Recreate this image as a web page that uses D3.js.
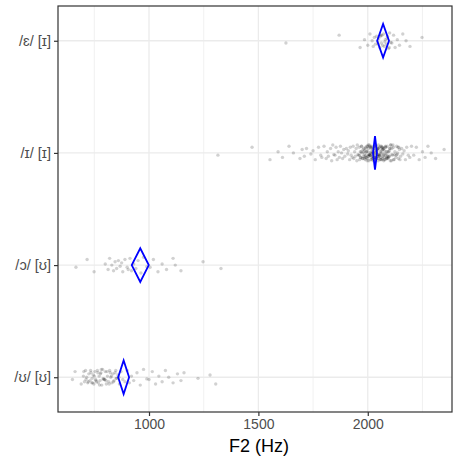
<!DOCTYPE html>
<html><head><meta charset="utf-8">
<script src="https://cdn.jsdelivr.net/npm/d3@7"></script>
<style>body{margin:0;background:#fff}svg{display:block}text{font-family:"Liberation Sans",Arial,"DejaVu Sans",sans-serif}</style>
</head><body>
<svg id="c" width="454" height="462"></svg>
<script>
const categories = ["/ɛ/ [ɪ]", "/ɪ/ [ɪ]", "/ɔ/ [ʊ]", "/ʊ/ [ʊ]"];
const xTicks = [1000, 1500, 2000];
const xMinorTicks = [750, 1250, 1750, 2250];
const xTitle = "F2 (Hz)";
const meanF2 = [2070, 2033, 960, 884];
const ciHalf = [27, 9, 39, 25];
const f2_eps = [1626,1869,1965,1985,2000,2010,2020,2025,2030,2035,2040,2045,2050,2055,2060,2062,2068,2072,2075,2080,2085,2090,2095,2100,2105,2110,2118,2125,2135,2145,2160,2175,2193,2248,2048,2058,2078,2088,2098,2064];
const f2_ih = [1315,1471,1553,1590,1610,1640,1660,1690,1700,1710,1720,1740,1750,1760,1775,1785,1790,1800,1810,1815,1820,1830,1835,1840,1845,1850,1855,1860,1865,1870,1875,1880,1885,1890,1895,
1902,1908,1911,1917,1920,1924,1929,1933,1936,1940,1943,1947,1950,1952,1955,1958,1961,1963,1966,1968,1971,1973,1975,1978,1980,1982,1984,1986,1988,1990,1992,1994,1996,1998,2000,2001,2003,2005,2007,2008,2010,2012,2013,2015,2017,2018,2020,2022,2023,2025,2027,2028,2030,2032,2033,2035,2037,2038,2040,2042,2043,2045,2047,2049,2050,2052,2054,2056,2058,2060,2062,2064,2066,2068,2070,2072,2074,2077,2079,2082,2084,2087,2089,2092,2095,2098,2100,2103,2106,2110,2113,2117,2120,2124,2128,2132,2136,2140,2145,2150,2155,2160,2166,2172,2178,2185,2192,2200,
1985,1995,2005,2015,2025,2035,2045,2055,2065,2075,2085,2095,2010,2030,2050,2070,2090,2110,2020,2040,2060,2080,
1962,1967,1972,1977,1981,1987,1991,1997,2002,2006,2011,2016,2019,2024,2029,2031,2036,2039,2044,2048,2051,2057,2061,2063,2067,2071,2076,2081,2086,2091,2097,2102,2108,2115,2122,2130,2138,2147,1970,1990,2000,2012,2026,2041,2053,2069,2083,2099,2118,2142,2008,2034,2058,2088,1993,2021,2046,2073,2104,2134,
2210,2222,2235,2250,2262,2275,2290,2310,2349];
const f2_oh = [666,717,749,800,813,820,830,838,845,852,860,868,875,880,890,900,905,913,920,930,940,950,963,975,990,1005,1020,1041,1060,1080,1110,1120,1146,1247,1329];
const f2_uh = [650,662,690,700,705,710,715,720,725,730,735,740,745,748,752,756,760,764,768,772,776,780,784,788,792,796,800,805,810,815,820,825,830,835,840,845,850,858,865,872,880,890,900,910,920,930,945,960,975,990,1000,1015,1030,1045,1060,1075,1090,1110,1130,1146,1160,1224,1279,1305,
702,712,722,733,742,750,758,766,774,782,790,798,808,818,828,838,848,862,738,778,803,823,853];
const tokens = [f2_eps, f2_ih, f2_oh, f2_uh];
const jitterPattern = [0.02,-0.05,0.06,-0.01,0.04,-0.06,0.00,0.05,-0.03,0.03,-0.04,0.01,-0.02,0.06,-0.05,0.02,0.04,-0.06,0.05,-0.01,0.03,-0.04,0.07,-0.07,0.015];

const svg = d3.select("#c");
const L = 58, R = 452, T = 6, B = 412;
const x = d3.scaleLinear().domain([584, 2385]).range([L, R]);
const y = d3.scaleLinear().domain([-0.31, 3.31]).range([T, B]);

const g = svg.append("g");
g.selectAll(".mn").data(xMinorTicks).join("line")
  .attr("x1", d => x(d)).attr("x2", d => x(d)).attr("y1", T).attr("y2", B)
  .attr("stroke", "#ebebeb").attr("stroke-width", 0.7);
g.selectAll(".mj").data(xTicks).join("line")
  .attr("x1", d => x(d)).attr("x2", d => x(d)).attr("y1", T).attr("y2", B)
  .attr("stroke", "#ebebeb").attr("stroke-width", 1.3);
g.selectAll(".hy").data(categories).join("line")
  .attr("x1", L).attr("x2", R).attr("y1", (d, i) => y(i)).attr("y2", (d, i) => y(i))
  .attr("stroke", "#ebebeb").attr("stroke-width", 1.3);

tokens.forEach((vals, i) => {
  g.append("g").selectAll("circle").data(vals).join("circle")
    .attr("cx", d => x(d))
    .attr("cy", (d, j) => y(i + jitterPattern[j % jitterPattern.length]))
    .attr("r", 1.7).attr("fill", "#000").attr("fill-opacity", 0.18);
});

g.selectAll(".dm").data(meanF2).join("path")
  .attr("d", (m, i) => {
    const c = ciHalf[i];
    return `M${x(m - c)},${y(i)}L${x(m)},${y(i - 0.15)}L${x(m + c)},${y(i)}L${x(m)},${y(i + 0.15)}Z`;
  })
  .attr("fill", "none").attr("stroke", "#0000ff").attr("stroke-width", 1.8);

svg.append("rect").attr("x", L).attr("y", T).attr("width", R - L).attr("height", B - T)
  .attr("fill", "none").attr("stroke", "#333333").attr("stroke-width", 1.2);

const xa = svg.append("g").attr("transform", `translate(0,${B})`)
  .call(d3.axisBottom(x).tickValues(xTicks).tickSize(4).tickPadding(3).tickFormat(d3.format("d")));
xa.select(".domain").remove();
xa.selectAll("line").attr("stroke", "#333333").attr("stroke-width", 1.2);
xa.selectAll("text").attr("fill", "#4d4d4d").attr("font-size", 14).attr("font-family", '"Liberation Sans",Arial,sans-serif');

const ya = svg.append("g").attr("transform", `translate(${L},0)`)
  .call(d3.axisLeft(d3.scalePoint().domain(categories).range([y(0), y(3)])).tickSize(4).tickPadding(3));
ya.select(".domain").remove();
ya.selectAll("line").attr("stroke", "#333333").attr("stroke-width", 1.2);
ya.selectAll("text").attr("fill", "#4d4d4d").attr("font-size", 14.5).attr("font-family", '"Liberation Sans","DejaVu Sans",sans-serif');

svg.append("text").attr("x", 259).attr("y", 452).attr("text-anchor", "middle")
  .attr("font-size", 18).attr("fill", "#000").text(xTitle);
</script>
</body></html>
